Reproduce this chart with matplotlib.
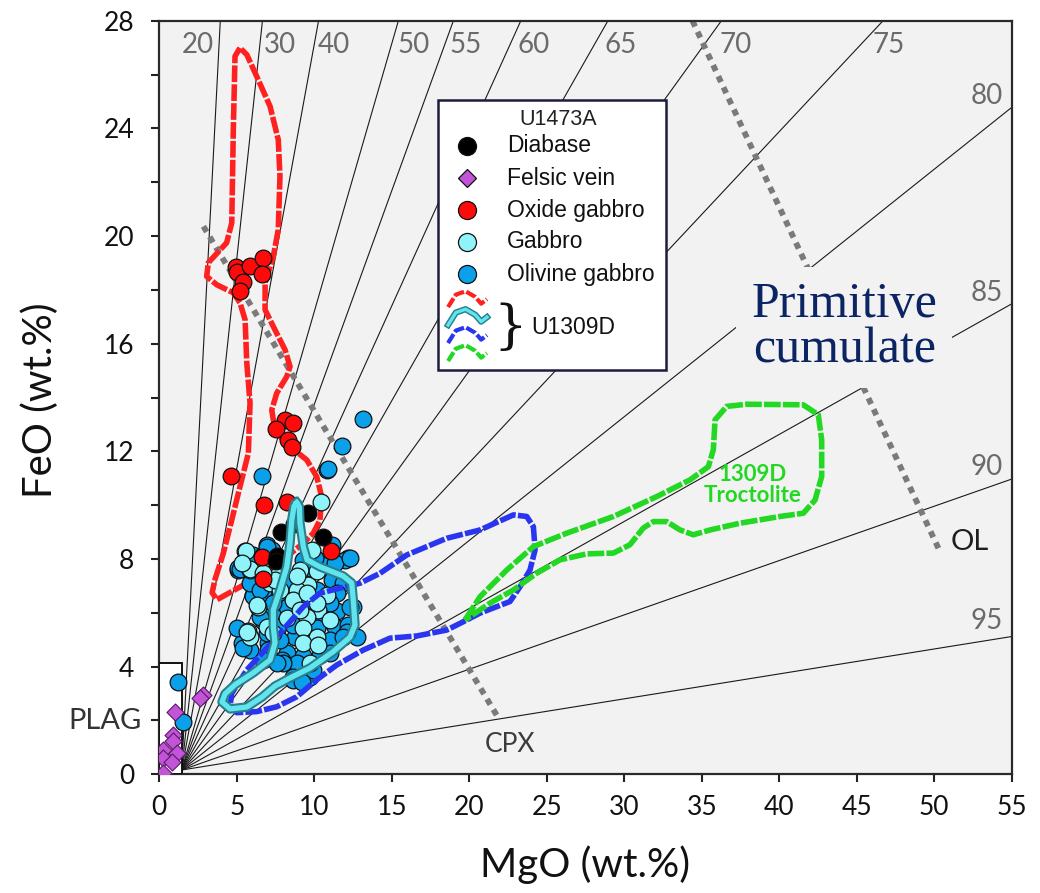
import matplotlib.pyplot as plt
from matplotlib.patches import Rectangle

# Mg# reference lines, end points read where each one meets the frame
mg_numbers = [20, 30, 40, 50, 55, 60, 65, 70, 75, 80, 85, 90, 95]
mg_end_mgo = [3.94, 6.66, 10.28, 15.43, 18.98, 23.33, 28.95, 36.27, 46.7, 55, 55, 55, 55]
mg_end_feo = [28, 28, 28, 28, 28, 28, 28, 28, 28, 24.78, 17.48, 10.97, 5.12]
fan_origin = (1.45, 0.16)

# dotted mineral trends
cpx_mgo = [2.85, 21.77]
cpx_feo = [20.36, 2.20]
ol_mgo = [34.4, 50.27]
ol_feo = [28.0, 8.40]

# U1473A samples
diabase_mgo = [9.62, 8.70, 7.84, 10.55, 7.62, 7.54]
diabase_feo = [9.72, 9.30, 9.02, 8.83, 8.12, 7.93]

felsic_mgo = [2.85, 2.63, 1.02, 0.91, 0.87, 0.26, 1.13, 0.26, 0.81, 0.26]
felsic_feo = [2.95, 2.83, 2.30, 1.46, 1.25, 0.90, 0.78, 0.59, 0.47, 0.06]

oxide_mgo = [4.95, 5.02, 5.86, 6.72, 6.61, 5.39, 5.21, 8.12, 8.61, 7.54, 8.33, 8.55,
             4.63, 6.76, 8.26, 6.61, 11.06, 6.72]
oxide_feo = [18.85, 18.68, 18.90, 19.20, 18.60, 18.28, 17.94, 13.17, 13.05, 12.83, 12.43, 12.18,
             11.10, 10.01, 10.10, 8.07, 8.30, 7.26]

olivine_mgo = [6.93, 6.07, 11.12, 12.20, 11.98, 5.10, 9.30, 10.80, 8.22, 11.12, 11.88, 6.07,
               6.72, 7.58, 9.51, 11.45, 12.52, 7.04, 6.72, 10.59, 11.34, 7.68, 12.20, 5.86,
               5.32, 8.76, 12.74, 7.04, 8.22, 9.30, 7.15, 8.87, 10.37, 8.65, 9.19,
               5.10, 6.07, 5.43, 6.93, 6.72, 7.58, 7.90, 8.65, 9.73, 12.31, 12.09,
               7.25, 6.72, 11.34, 10.05, 9.73, 11.45, 10.16, 8.22, 11.02, 8.65, 10.16,
               7.79, 11.02, 11.88, 8.01, 11.02, 9.94, 5.86, 6.50, 5.00, 6.50, 7.35,
               7.04, 6.72, 7.58, 9.19,
               13.13, 11.77, 10.81, 10.89, 6.61, 12.31, 6.94, 5.21, 1.23, 1.56]
olivine_feo = [8.53, 8.16, 8.53, 8.03, 7.97, 7.60, 7.97, 7.78, 7.23, 7.23, 7.10, 6.67,
               6.73, 6.48, 6.36, 6.05, 6.23, 5.99, 5.74, 5.74, 5.49, 5.49, 5.55, 4.62,
               4.87, 5.12, 5.12, 4.87, 4.50, 4.38, 4.31, 4.13, 4.44, 3.63, 3.51,
               7.66, 6.61, 4.68, 5.24, 5.68, 6.11, 4.25, 3.51, 3.63, 6.23, 5.30,
               8.34, 8.16, 7.85, 8.03, 7.66, 6.73, 6.85, 6.23, 6.36, 5.55, 5.43,
               4.99, 4.99, 5.12, 4.13, 4.50, 3.88, 7.11, 6.85, 5.43, 5.86, 6.36,
               4.62, 4.25, 4.13, 3.44,
               13.21, 12.20, 11.29, 11.35, 11.10, 8.05, 8.46, 7.63, 3.44, 1.96]

gabbro_mgo = [5.53, 9.83, 5.86, 7.58, 9.08, 7.15, 9.62, 10.80, 7.79, 8.87, 6.39, 8.65,
              10.26, 8.22, 9.51, 9.30, 5.75, 5.86, 10.16, 9.30, 10.26, 9.73, 5.62, 5.86,
              10.44, 6.29, 5.64, 6.93, 10.16, 10.16, 7.47, 8.87, 9.51, 7.36, 11.02,
              9.08, 6.72, 5.32]
gabbro_feo = [8.28, 8.34, 7.60, 7.35, 7.60, 7.10, 7.04, 6.67, 6.85, 6.85, 6.23, 6.48,
              6.11, 5.80, 5.86, 5.43, 5.31, 5.12, 5.12, 4.87, 4.81, 4.13, 8.31, 7.63,
              10.10, 6.30, 5.30, 5.49, 6.36, 7.54, 7.23, 7.35, 6.73, 5.24, 5.74,
              6.11, 7.47, 7.84]

# U1309D fields
red_mgo = [5.21, 4.89, 4.78, 4.68, 4.35, 3.17, 3.06, 3.71, 4.78, 5.21, 5.54, 5.65, 5.86,
           5.75, 5.21, 4.68, 4.14, 3.60, 3.41, 3.73, 5.21, 6.29, 6.94, 8.23, 9.30, 9.94,
           10.37, 10.48, 10.16, 9.52, 8.44, 7.58, 7.36, 7.26, 7.58, 8.23, 8.44, 8.12, 7.36,
           6.83, 6.83, 7.36, 7.68, 7.79, 7.68, 7.15, 6.29, 5.65, 5.21]
red_feo = [26.99, 26.68, 23.95, 20.49, 19.75, 19.01, 18.50, 18.19, 17.89, 17.52, 16.89, 15.28,
           13.79, 11.93, 10.69, 9.45, 8.22, 7.24, 6.75, 6.49, 6.96, 7.33, 7.59, 8.09, 8.59,
           8.96, 9.45, 10.32, 11.06, 11.68, 12.18, 12.68, 13.17, 13.54, 14.16, 14.78, 15.15,
           15.77, 16.64, 17.26, 18.26, 19.24, 20.24, 22.22, 23.58, 24.82, 25.93, 26.74, 26.99]

cyan_mgo = [8.87, 8.70, 8.55, 8.44, 8.23, 7.79, 7.36, 7.36, 7.47, 7.15, 6.07, 4.89, 4.25,
            4.05, 4.57, 5.65, 6.63, 7.47, 8.44, 9.73, 11.21, 12.31, 12.63, 12.52, 12.42,
            11.86, 10.37, 9.54, 9.30, 9.08, 9.04, 8.87]
cyan_feo = [10.09, 9.97, 9.45, 8.60, 7.71, 6.85, 6.11, 5.48, 4.88, 4.25, 3.77, 3.33, 2.99,
            2.69, 2.43, 2.50, 2.87, 3.28, 3.58, 3.95, 4.55, 5.10, 5.55, 6.48, 7.11,
            7.37, 7.71, 7.97, 8.45, 9.34, 9.94, 10.09]

blue_mgo = [14.25, 15.97, 18.55, 20.70, 22.85, 23.71, 24.14, 24.25, 23.92, 23.28, 22.63,
            20.70, 19.62, 18.55, 16.61, 14.89, 13.17, 11.45, 10.16, 8.87, 7.58, 6.29, 5.00,
            4.57, 4.68, 5.65, 6.83, 7.79, 9.30, 10.37, 11.88, 12.95, 14.25]
blue_feo = [7.47, 8.15, 8.77, 9.08, 9.64, 9.58, 9.20, 8.34, 7.59, 6.97, 6.42,
            5.99, 5.67, 5.36, 5.14, 5.06, 4.62, 4.06, 3.51, 2.88, 2.51, 2.33, 2.29,
            2.54, 3.01, 3.88, 4.62, 5.24, 6.23, 6.73, 6.95, 7.10, 7.47]

green_mgo = [19.73, 20.70, 22.42, 24.14, 26.29, 29.30, 32.10, 34.24, 35.43, 35.75, 35.86,
             36.61, 37.90, 41.55, 42.52, 42.74, 42.74, 42.31, 41.55, 40.05, 37.47, 35.54,
             34.46, 33.60, 32.74, 31.88, 31.23, 30.37, 29.30, 27.58, 25.86, 24.35, 22.85,
             21.34, 20.05, 19.73]
green_feo = [5.74, 6.60, 7.59, 8.46, 8.96, 9.58, 10.32, 10.94, 11.43, 12.06, 13.17,
             13.67, 13.75, 13.73, 13.36, 12.43, 11.06, 10.19, 9.70, 9.58, 9.33, 9.08,
             8.90, 9.08, 9.39, 9.39, 9.15, 8.53, 8.22, 8.19, 7.97, 7.47, 6.85,
             6.36, 5.86, 5.74]

RED = '#ff2020'
BLUE = '#2a35f0'
GREEN = '#22d822'
CYAN_EDGE = '#27808c'
CYAN_FILL = '#62e4ee'
GREY_NUM = '#6b6b6b'

plt.rcParams['font.family'] = ['Lato', 'DejaVu Sans']

fig = plt.figure(figsize=(10.4, 8.93), dpi=100)
ax = fig.add_axes([0.1531, 0.1329, 0.8197, 0.8439])
ax.set_facecolor('#f2f2f2')
ax.set_xlim(0, 55)
ax.set_ylim(0, 28)

# Mg# fan
for mg, xe, ye in zip(mg_numbers, mg_end_mgo, mg_end_feo):
    ax.plot([fan_origin[0], xe], [fan_origin[1], ye], color='#1a1a1a', lw=0.8, zorder=1)

label_pos = {20: (2.49, 27.1), 30: (7.81, 27.1), 40: (11.26, 27.1), 50: (16.44, 27.1),
             55: (19.77, 27.1), 60: (24.16, 27.1), 65: (29.78, 27.1), 70: (37.2, 27.1),
             75: (47.07, 27.1), 80: (53.4, 25.2), 85: (53.4, 17.9), 90: (53.4, 11.43),
             95: (53.4, 5.71)}
for mg in mg_numbers:
    lx, ly = label_pos[mg]
    ax.text(lx, ly, str(mg), color=GREY_NUM, fontsize=20, ha='center', va='center', zorder=2)

# mineral trends
ax.plot(cpx_mgo, cpx_feo, color='#7a7a7a', lw=4.2, dashes=(1.1, 1.0), zorder=2)
ax.plot(ol_mgo, ol_feo, color='#7a7a7a', lw=4.2, dashes=(1.1, 1.0), zorder=2)

ax.add_patch(Rectangle((0, 0), fan_origin[0], 4.12, facecolor='white',
                       edgecolor='#111111', lw=1.4, zorder=3))

# U1309D red field below the points
ax.plot(red_mgo, red_feo, color=RED, lw=4.0, dashes=(3.0, 0.4), zorder=4)

mk = dict(s=145, edgecolors='#111111', linewidths=0.9, zorder=5)
ax.scatter(olivine_mgo, olivine_feo, c='#0aa0ea', **mk)
ax.scatter(gabbro_mgo, gabbro_feo, c='#8ff4fa', **mk)
ax.scatter(oxide_mgo, oxide_feo, c='#ff0a0a', **mk)
ax.scatter(diabase_mgo, diabase_feo, c='#000000', **mk)
ax.scatter(felsic_mgo, felsic_feo, c='#c254d8', marker='D', s=75,
           edgecolors='#5a1a66', linewidths=0.8, zorder=5)

ax.plot(blue_mgo, blue_feo, color=BLUE, lw=4.0, dashes=(3.0, 0.4), zorder=6)
ax.plot(cyan_mgo, cyan_feo, color=CYAN_EDGE, lw=6.8, solid_joinstyle='round', zorder=6)
ax.plot(cyan_mgo, cyan_feo, color=CYAN_FILL, lw=3.8, solid_joinstyle='round', zorder=6)
ax.plot(green_mgo, green_feo, color=GREEN, lw=4.0, dashes=(3.0, 0.4), zorder=6)

# annotations
ax.text(38.3, 10.75, '1309D\nTroctolite', color=GREEN, fontsize=16, fontweight='bold',
        ha='center', va='center', linespacing=1.0, zorder=7)
ax.text(44.2, 16.6, 'Primitive\ncumulate', family='Liberation Serif', fontsize=36,
        color='#0b2463', ha='center', va='center', linespacing=0.95, zorder=7,
        bbox=dict(boxstyle='square,pad=0.3', facecolor='#f2f2f2', edgecolor='none'))
ax.text(52.3, 8.65, 'OL', fontsize=21, color='#1e1e1e', ha='center', va='center', zorder=7)
ax.text(22.6, 1.1, 'CPX', fontsize=19, color='#3c3c3c', ha='center', va='center', zorder=7)
ax.text(-3.48, 1.98, 'PLAG', fontsize=21, color='#333333', ha='center', va='center',
        clip_on=False, zorder=7)

# legend drawn by hand in axes fraction
T = ax.transAxes
ax.add_patch(Rectangle((0.327, 0.5365), 0.268, 0.3583, transform=T, facecolor='white',
                       edgecolor='#1c1c3c', lw=1.8, zorder=8))
lf = ['Liberation Sans', 'DejaVu Sans']
ax.text(0.468, 0.8689, 'U1473A', transform=T, family=lf, fontsize=15.5, color='#222222',
        ha='center', va='center', zorder=9)
entries = [('Diabase', 'o', '#000000'), ('Felsic vein', 'D', '#c254d8'),
           ('Oxide gabbro', 'o', '#ff0a0a'), ('Gabbro', 'o', '#8ff4fa'),
           ('Olivine gabbro', 'o', '#0aa0ea')]
rows = [0.8341, 0.7909, 0.7488, 0.7067, 0.6639]
for (name, m, col), ry in zip(entries, rows):
    ax.plot(0.3614, ry, marker=m, ms=13 if m == 'o' else 9.5, mfc=col, mec='#111111',
            mew=0.9, transform=T, zorder=9, clip_on=False)
    ax.text(0.4083, ry, name, transform=T, family=lf, fontsize=16.5, color='#111111',
            ha='left', va='center', zorder=9)

wave_x = [0.0, 0.2, 0.45, 0.7, 0.85, 1.0]
wave_y = [0.0, 0.55, 0.7, 0.45, 0.15, 0.35]
icon_rows = [0.6320, 0.6082, 0.5843, 0.5604]
for ry, col in zip(icon_rows, [RED, CYAN_FILL, BLUE, GREEN]):
    xs = [0.3388 + 0.0457 * w for w in wave_x]
    ys = [ry - 0.012 + 0.03 * w for w in wave_y]
    if col == CYAN_FILL:
        ax.plot(xs, ys, color=CYAN_EDGE, lw=4.5, transform=T, zorder=9, clip_on=False)
        ax.plot(xs, ys, color=CYAN_FILL, lw=2.4, transform=T, zorder=9, clip_on=False)
    else:
        ax.plot(xs, ys, color=col, lw=3.0, dashes=(2.5, 0.6), transform=T, zorder=9,
                clip_on=False)
ax.text(0.4115, 0.5923, '}', transform=T, family=['DejaVu Serif'], fontsize=38,
        color='#111111', ha='center', va='center', zorder=9)
ax.text(0.4369, 0.5923, 'U1309D', transform=T, family=lf, fontsize=16.5, color='#111111',
        ha='left', va='center', zorder=9)

# axes styling
ax.set_xticks(range(0, 56, 5))
ax.set_yticks(range(0, 29, 4))
ax.set_yticks(range(2, 28, 4), minor=True)
ax.tick_params(which='both', direction='out', length=6, width=1.5, colors='#222222',
               labelsize=19, labelcolor='#111111')
ax.tick_params(axis='x', pad=9)
ax.tick_params(axis='y', pad=12)
for sp in ax.spines.values():
    sp.set_linewidth(1.6)
    sp.set_color('#2a2a2a')

ax.set_xlabel('MgO (wt.%)', fontsize=29, color='#111111')
ax.set_ylabel('FeO (wt.%)', fontsize=29, color='#111111')
ax.xaxis.set_label_coords(0.5, -0.094)
ax.yaxis.set_label_coords(-0.118, 0.497)

fig.savefig('out.png', dpi=100)
